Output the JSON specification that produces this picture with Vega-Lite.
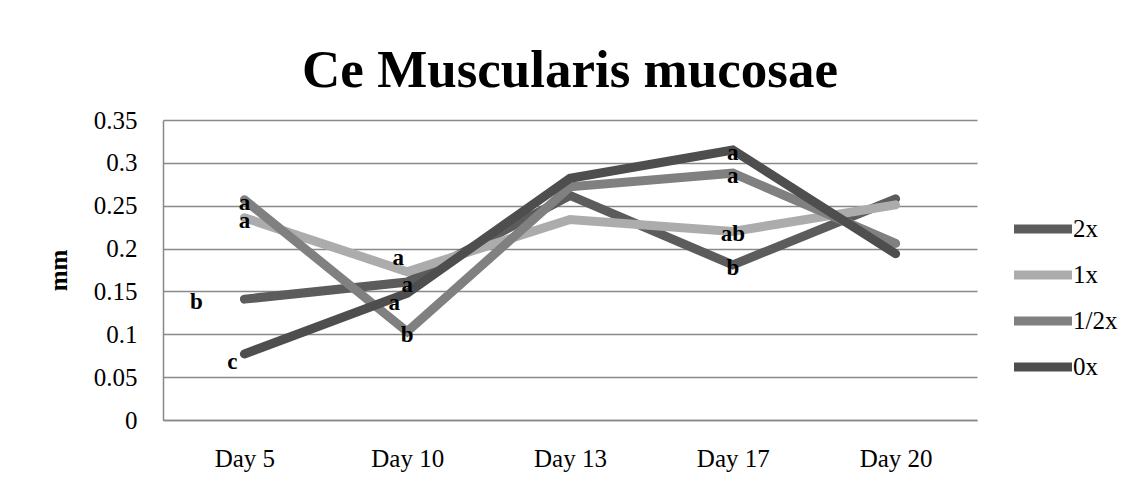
{
  "$schema": "https://vega.github.io/schema/vega-lite/v6.json",
  "width": 814,
  "height": 300,
  "autosize": {"type": "none"},
  "padding": {"left": 163, "top": 120, "right": 164, "bottom": 78},
  "background": "white",
  "title": {
    "text": "Ce Muscularis mucosae",
    "font": "Liberation Serif",
    "fontSize": 53,
    "fontWeight": "bold",
    "color": "black",
    "anchor": "middle",
    "offset": 10
  },
  "data": {
    "values": [
      {"series": "2x", "day": "Day 5", "value": 0.141, "label": "b"},
      {"series": "2x", "day": "Day 10", "value": 0.161, "label": "a"},
      {"series": "2x", "day": "Day 13", "value": 0.262, "label": ""},
      {"series": "2x", "day": "Day 17", "value": 0.181, "label": "b"},
      {"series": "2x", "day": "Day 20", "value": 0.258, "label": ""},
      {"series": "1x", "day": "Day 5", "value": 0.236, "label": "a"},
      {"series": "1x", "day": "Day 10", "value": 0.173, "label": "a"},
      {"series": "1x", "day": "Day 13", "value": 0.234, "label": ""},
      {"series": "1x", "day": "Day 17", "value": 0.220, "label": "ab"},
      {"series": "1x", "day": "Day 20", "value": 0.251, "label": ""},
      {"series": "1/2x", "day": "Day 5", "value": 0.257, "label": "a"},
      {"series": "1/2x", "day": "Day 10", "value": 0.103, "label": "b"},
      {"series": "1/2x", "day": "Day 13", "value": 0.272, "label": ""},
      {"series": "1/2x", "day": "Day 17", "value": 0.288, "label": "a"},
      {"series": "1/2x", "day": "Day 20", "value": 0.206, "label": ""},
      {"series": "0x", "day": "Day 5", "value": 0.077, "label": "c"},
      {"series": "0x", "day": "Day 10", "value": 0.148, "label": "a"},
      {"series": "0x", "day": "Day 13", "value": 0.282, "label": ""},
      {"series": "0x", "day": "Day 17", "value": 0.315, "label": "a"},
      {"series": "0x", "day": "Day 20", "value": 0.194, "label": ""}
    ]
  },
  "encoding": {
    "x": {
      "field": "day",
      "type": "ordinal",
      "sort": ["Day 5", "Day 10", "Day 13", "Day 17", "Day 20"],
      "scale": {"paddingInner": 0, "paddingOuter": 0.5},
      "axis": {
        "title": null,
        "labelAngle": 0,
        "ticks": false,
        "domain": true,
        "domainColor": "#898989",
        "domainWidth": 1.5,
        "labelFont": "Liberation Serif",
        "labelFontSize": 25,
        "labelColor": "black",
        "labelPadding": 26,
        "grid": false
      }
    },
    "y": {
      "field": "value",
      "type": "quantitative",
      "scale": {"domain": [0, 0.35], "nice": false},
      "axis": {
        "title": "mm",
        "titleFont": "Liberation Serif",
        "titleFontSize": 25,
        "titleFontWeight": "bold",
        "titleColor": "black",
        "titlePadding": 22,
        "values": [0, 0.05, 0.1, 0.15, 0.2, 0.25, 0.3, 0.35],
        "labelExpr": "datum.value == 0 ? '0' : replace(format(datum.value, '.2f'), /0$/, '')",
        "ticks": false,
        "domain": true,
        "domainColor": "#898989",
        "domainWidth": 1.5,
        "grid": true,
        "gridColor": "#898989",
        "gridWidth": 1.5,
        "labelFont": "Liberation Serif",
        "labelFontSize": 25,
        "labelColor": "black",
        "labelPadding": 26
      }
    }
  },
  "layer": [
    {
      "mark": {"type": "line", "strokeWidth": 9, "strokeCap": "round", "strokeJoin": "miter"},
      "encoding": {
        "color": {
          "field": "series",
          "type": "nominal",
          "sort": ["2x", "1x", "1/2x", "0x"],
          "scale": {
            "domain": ["2x", "1x", "1/2x", "0x"],
            "range": ["#5c5c5c", "#acacac", "#808080", "#4e4e4e"]
          },
          "legend": {
            "title": null,
            "orient": "none",
            "legendX": 861,
            "legendY": 90,
            "symbolType": "M-2,0H2",
            "symbolSize": 841,
            "symbolStrokeWidth": 9,
            "labelFont": "Liberation Serif",
            "labelFontSize": 25,
            "labelColor": "black",
            "labelOffset": 11,
            "rowPadding": 9
          }
        },
        "order": {"field": "series"}
      }
    },
    {
      "transform": [{"filter": "datum.label != '' && !((datum.series == '2x' && datum.day == 'Day 5') || (datum.series == '0x' && datum.day == 'Day 5') || (datum.series == '1x' && datum.day == 'Day 10') || (datum.series == '0x' && datum.day == 'Day 10'))"}],
      "mark": {"type": "text", "font": "Liberation Serif", "fontSize": 23, "fontWeight": "bold", "color": "black", "baseline": "middle", "dy": 3},
      "encoding": {"text": {"field": "label"}}
    },
    {
      "transform": [{"filter": "datum.series == '2x' && datum.day == 'Day 5'"}],
      "mark": {"type": "text", "font": "Liberation Serif", "fontSize": 23, "fontWeight": "bold", "color": "black", "baseline": "middle", "dx": -48, "dy": 3},
      "encoding": {"text": {"field": "label"}}
    },
    {
      "transform": [{"filter": "datum.series == '0x' && datum.day == 'Day 5'"}],
      "mark": {"type": "text", "font": "Liberation Serif", "fontSize": 23, "fontWeight": "bold", "color": "black", "baseline": "middle", "dx": -12, "dy": 8},
      "encoding": {"text": {"field": "label"}}
    },
    {
      "transform": [{"filter": "datum.series == '1x' && datum.day == 'Day 10'"}],
      "mark": {"type": "text", "font": "Liberation Serif", "fontSize": 23, "fontWeight": "bold", "color": "black", "baseline": "middle", "dx": -9, "dy": -14},
      "encoding": {"text": {"field": "label"}}
    },
    {
      "transform": [{"filter": "datum.series == '0x' && datum.day == 'Day 10'"}],
      "mark": {"type": "text", "font": "Liberation Serif", "fontSize": 23, "fontWeight": "bold", "color": "black", "baseline": "middle", "dx": -13, "dy": 10},
      "encoding": {"text": {"field": "label"}}
    }
  ],
  "config": {
    "view": {"stroke": "#898989", "strokeWidth": 0}
  }
}
